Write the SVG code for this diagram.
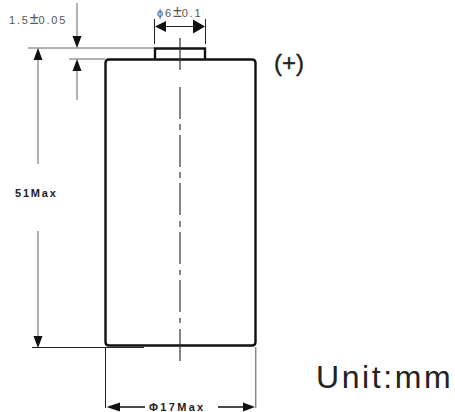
<svg xmlns="http://www.w3.org/2000/svg" width="455" height="412" viewBox="0 0 455 412">
<defs><style>
text{font-family:"Liberation Sans",Arial,sans-serif;fill:#222}
.body{fill:none;stroke:#111;stroke-width:2.400}
.dim{fill:none;stroke:#666;stroke-width:1}
.dark{fill:none;stroke:#222;stroke-width:1}
.center{fill:none;stroke:#333;stroke-width:1.200}
.ah{fill:#111;stroke:none}
.b{font-weight:bold;font-size:11px;letter-spacing:1.800px}
.s{font-size:11px;fill:#555;letter-spacing:1.800px}
.pm{font-size:16px;letter-spacing:0}
</style></defs>
<rect width="455" height="412" fill="#fff"/>
<g id="battery">
<path class="body" d="M155 59V48.500H205V59" stroke-width="1.800"/>
<path class="body" d="M105.500 63Q105.500 59.500 109 59.500H252Q255.500 59.500 255.500 63V342Q255.500 345.500 252 345.500H109Q105.500 345.500 105.500 342Z"/>
</g>
<g id="connectors">
<path class="dim" d="M28 48H154M69 59H105M77 3V38M77 70V100M38 58V164M38 231V338"/>
<path class="center" d="M180 38V70M180 87V119M180 124V130M180 135V167M180 172V178M180 183V215M180 221V227M180 232V264M180 270V275M180 280V312M180 318V323M180 329V361"/>
<path class="dark" d="M32 347.500H144M105.500 347V408M154.500 19V44M205.500 19V44M160 26.500H195"/>
<path stroke="#111" stroke-width="1.500" fill="none" d="M120 407H145M218 407H245"/>
<path stroke="#888" stroke-width="1.500" fill="none" d="M255.700 347V408"/>
<path class="ah" d="M77 48L72.500 36H81.500ZM77 59L81.500 71H72.500ZM38 48L42.500 60H33.500ZM38 348L33.500 336H42.500ZM155 26.500L166 21V32ZM205 26.500L193 19.500V33.500ZM106.500 407L120 402.500V411.500ZM255 407L243 402.500V411.500Z"/>
</g>
<g id="labels">
<text class="s" x="9" y="24">1.5<tspan class="pm">±</tspan>0.05</text>
<text class="s" x="157" y="17">ϕ6<tspan class="pm">±</tspan>0.1</text>
<text x="274" y="71" font-size="24" stroke="#222" stroke-width=".4">(+)</text>
<text class="b" x="15" y="197">51Max</text>
<text class="b" x="149" y="411" style="letter-spacing:2.300px">Φ17Max</text>
<text x="316" y="388" font-size="32" letter-spacing="2.600">Unit:mm</text>
</g>
</svg>
